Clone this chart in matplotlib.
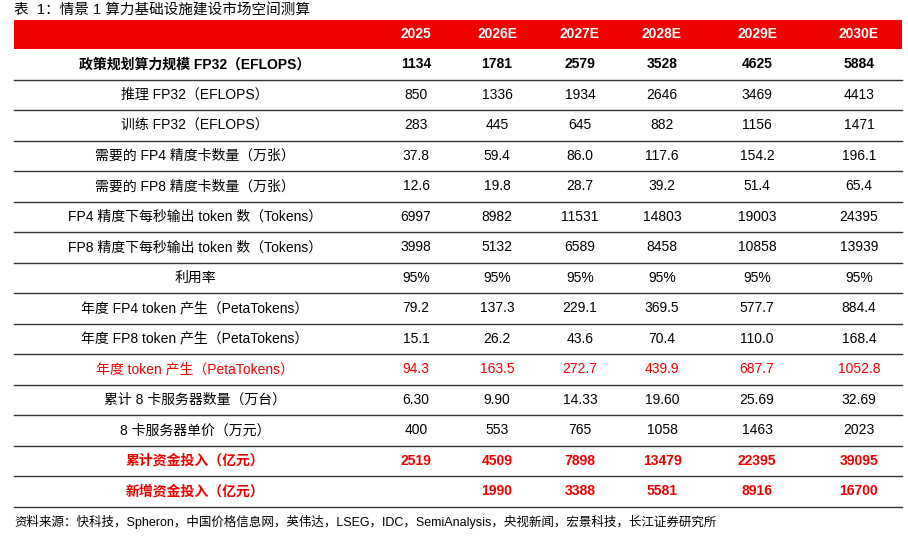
import matplotlib.pyplot as plt
from matplotlib.patches import Rectangle
from matplotlib.lines import Line2D

plt.rcParams['font.family'] = ['Liberation Sans', 'Noto Sans CJK SC', 'DejaVu Sans']

title = "表  1：情景 1 算力基础设施建设市场空间测算"
source = "资料来源：快科技，Spheron，中国价格信息网，英伟达，LSEG，IDC，SemiAnalysis，央视新闻，宏景科技，长江证券研究所"
years = ["2025", "2026E", "2027E", "2028E", "2029E", "2030E"]
labels = [
    "政策规划算力规模 FP32（EFLOPS）",
    "推理 FP32（EFLOPS）",
    "训练 FP32（EFLOPS）",
    "需要的 FP4 精度卡数量（万张）",
    "需要的 FP8 精度卡数量（万张）",
    "FP4 精度下每秒输出 token 数（Tokens）",
    "FP8 精度下每秒输出 token 数（Tokens）",
    "利用率",
    "年度 FP4 token 产生（PetaTokens）",
    "年度 FP8 token 产生（PetaTokens）",
    "年度 token 产生（PetaTokens）",
    "累计 8 卡服务器数量（万台）",
    "8 卡服务器单价（万元）",
    "累计资金投入（亿元）",
    "新增资金投入（亿元）",
]
values = [
    ["1134", "1781", "2579", "3528", "4625", "5884"],
    ["850", "1336", "1934", "2646", "3469", "4413"],
    ["283", "445", "645", "882", "1156", "1471"],
    ["37.8", "59.4", "86.0", "117.6", "154.2", "196.1"],
    ["12.6", "19.8", "28.7", "39.2", "51.4", "65.4"],
    ["6997", "8982", "11531", "14803", "19003", "24395"],
    ["3998", "5132", "6589", "8458", "10858", "13939"],
    ["95%", "95%", "95%", "95%", "95%", "95%"],
    ["79.2", "137.3", "229.1", "369.5", "577.7", "884.4"],
    ["15.1", "26.2", "43.6", "70.4", "110.0", "168.4"],
    ["94.3", "163.5", "272.7", "439.9", "687.7", "1052.8"],
    ["6.30", "9.90", "14.33", "19.60", "25.69", "32.69"],
    ["400", "553", "765", "1058", "1463", "2023"],
    ["2519", "4509", "7898", "13479", "22395", "39095"],
    ["", "1990", "3388", "5581", "8916", "16700"],
]
# row styles: (color, weight)
styles = {0: ("black", "bold"), 10: ("#ee0000", "normal"),
          13: ("#ee0000", "bold"), 14: ("#ee0000", "bold")}

W, H = 908, 543
fig = plt.figure(figsize=(W / 100, H / 100), dpi=100)
ax = fig.add_axes([0, 0, 1, 1])
ax.set_xlim(0, W)
ax.set_ylim(H, 0)
ax.axis("off")

col_x = [416, 497, 580, 662, 757, 859]
label_x = 195
x0, x1 = 14, 902
head_top, head_bot = 20, 49
row_h = 30.5

ax.text(14, 11, title, fontsize=10.5, va="center", ha="left")
ax.add_patch(Rectangle((x0, head_top), x1 - x0, head_bot - head_top,
                       color="#f00000", lw=0))
for x, y in zip(col_x, years):
    ax.text(x, (head_top + head_bot) / 2, y, color="white", fontsize=10,
            fontweight="bold", ha="center", va="center")

for i, (lab, row) in enumerate(zip(labels, values)):
    yc = head_bot + row_h * (i + 0.5)
    color, weight = styles.get(i, ("black", "normal"))
    ax.text(label_x, yc, lab, fontsize=10, color=color, fontweight=weight,
            ha="center", va="center")
    for x, v in zip(col_x, row):
        ax.text(x, yc, v, fontsize=10, color=color, fontweight=weight,
                ha="center", va="center")
    yb = head_bot + row_h * (i + 1)
    ax.add_line(Line2D([x0, x1], [yb, yb], color="#333333", lw=1.0))

ax.text(14, 522, source, fontsize=9, ha="left", va="center")

fig.savefig("out.png", dpi=100)
